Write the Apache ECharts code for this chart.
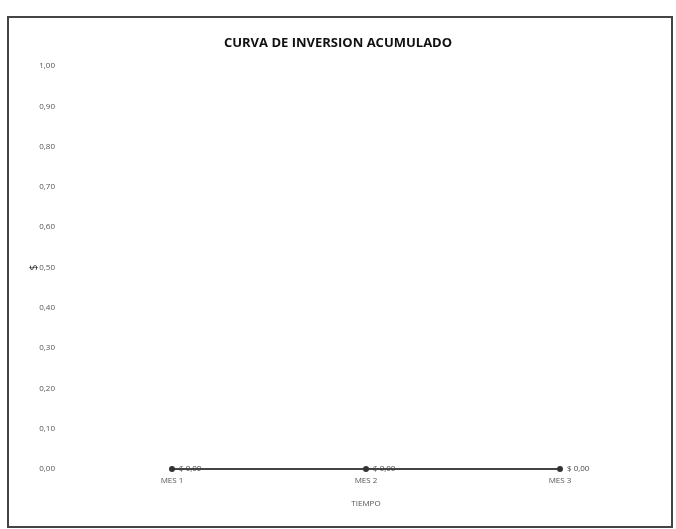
<!DOCTYPE html>
<html><head><meta charset="utf-8">
<script src="https://cdn.jsdelivr.net/npm/echarts@6/dist/echarts.min.js"></script>
<style>html,body{margin:0;padding:0;background:#fff;}#c{width:676px;height:529px;}</style>
</head><body><div id="c"></div>
<script>
const categories = ['MES 1', 'MES 2', 'MES 3'];
const values = [0, 0, 0];
const yTicks = [0, 0.1, 0.2, 0.3, 0.4, 0.5, 0.6, 0.7, 0.8, 0.9, 1.0];
const titleText = 'CURVA DE INVERSION ACUMULADO';
const xName = 'TIEMPO';
const yName = '$';

const fmt = v => v.toFixed(2).replace('.', ',');
const chart = echarts.init(document.getElementById('c'));
chart.setOption({
  backgroundColor: '#fff',
  animation: false,
  title: {
    text: titleText, left: 'center', top: 32,
    textStyle: { fontFamily: 'Open Sans', fontSize: 13, fontWeight: 'bold', color: '#111' }
  },
  graphic: [{
    type: 'rect', shape: { x: 8, y: 17, width: 664, height: 510 },
    style: { fill: 'none', stroke: '#444', lineWidth: 2 }, silent: true
  }],
  grid: { left: 75, right: 19, top: 66, bottom: 60 },
  xAxis: {
    type: 'category', data: categories, boundaryGap: true,
    name: xName, nameLocation: 'middle', nameGap: 31,
    nameTextStyle: { fontFamily: 'Open Sans', fontSize: 8, color: '#555' },
    axisLine: { show: false }, axisTick: { show: false },
    axisLabel: { fontFamily: 'Open Sans', fontSize: 8, color: '#555', margin: 8 }
  },
  yAxis: {
    type: 'value', min: yTicks[0], max: yTicks[yTicks.length - 1], interval: 0.1,
    name: yName, nameLocation: 'middle', nameGap: 36, nameRotate: 90, nameMoveOverlap: false,
    nameTextStyle: { fontFamily: 'Open Sans', fontSize: 10, color: '#222' },
    axisLine: { show: false }, axisTick: { show: false }, splitLine: { show: false },
    axisLabel: { fontFamily: 'Open Sans', fontSize: 8, color: '#555', margin: 20, formatter: v => fmt(v) }
  },
  series: [{
    type: 'line', data: values,
    symbol: 'circle', symbolSize: 6,
    lineStyle: { color: '#444', width: 1.8 },
    itemStyle: { color: '#333' },
    label: { show: true, position: 'right', distance: 4, fontFamily: 'Open Sans', fontSize: 8, color: '#444',
      formatter: p => '$ ' + fmt(p.value) }
  }]
});
</script></body></html>
